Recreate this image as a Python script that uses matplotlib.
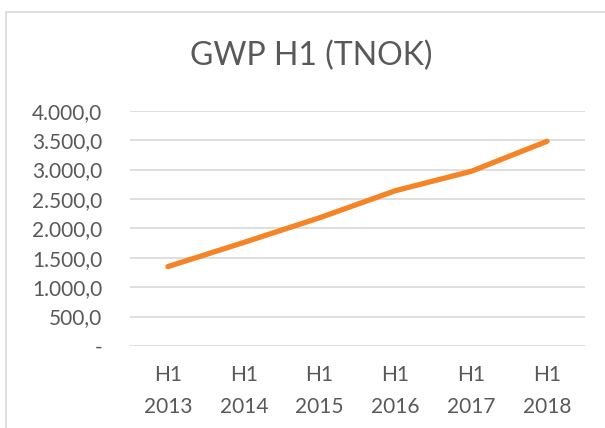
"""
GWP H1 (TNOK) line chart
"""

import matplotlib
matplotlib.use("Agg")
import matplotlib.pyplot as plt
from matplotlib.patches import Rectangle
from matplotlib.ticker import FuncFormatter

# Data
periods = ["H1\n2013", "H1\n2014", "H1\n2015", "H1\n2016", "H1\n2017", "H1\n2018"]
gwp = [1350, 1760, 2180, 2640, 2970, 3480]
y_ticks = [0, 500, 1000, 1500, 2000, 2500, 3000, 3500, 4000]

TEXT = "#595959"
GRID = "#D9D9D9"
ORANGE = "#F58426"


def nok_fmt(v, pos):
    """Norwegian style number: 4.000,0 and '-' for zero."""
    if v == 0:
        return "-"
    s = f"{v:,.1f}"
    return s.replace(",", "X").replace(".", ",").replace("X", ".")


def main():
    plt.rcParams["font.family"] = ["Lato", "DejaVu Sans"]
    fig = plt.figure(figsize=(6.05, 4.28), dpi=100)

    # outer chart border (right/bottom edges fall outside the crop)
    fig.patches.append(Rectangle((6 / 605, -0.1), 1.0, 1 - 12 / 428 + 0.1,
                                 transform=fig.transFigure, fill=False,
                                 edgecolor=GRID, linewidth=1.2))

    ax = fig.add_axes([130 / 605, 1 - 346 / 428, 455 / 605, 235.3 / 428])
    x = list(range(len(periods)))
    ax.plot(x, gwp, color=ORANGE, linewidth=3.8, solid_capstyle="round",
            solid_joinstyle="round", zorder=3)

    ax.set_xlim(-0.5, len(periods) - 0.5)
    ax.set_ylim(0, 4000)
    ax.set_yticks(y_ticks)
    ax.yaxis.set_major_formatter(FuncFormatter(nok_fmt))
    ax.set_xticks(x)
    ax.set_xticklabels(periods, linespacing=1.7)

    ax.grid(True, axis="y", color=GRID, linewidth=1.2)
    ax.set_axisbelow(True)
    for side in ["top", "right", "left", "bottom"]:
        ax.spines[side].set_visible(False)
    ax.tick_params(axis="both", length=0, colors=TEXT, labelsize=15)
    ax.tick_params(axis="y", pad=20)
    ax.tick_params(axis="x", pad=14)

    fig.text(311 / 605, 1 - 56 / 428, "GWP H1 (TNOK)", ha="center", va="center",
             fontsize=23, color=TEXT)

    fig.savefig("out.png", dpi=100)
    plt.close(fig)


if __name__ == "__main__":
    main()
